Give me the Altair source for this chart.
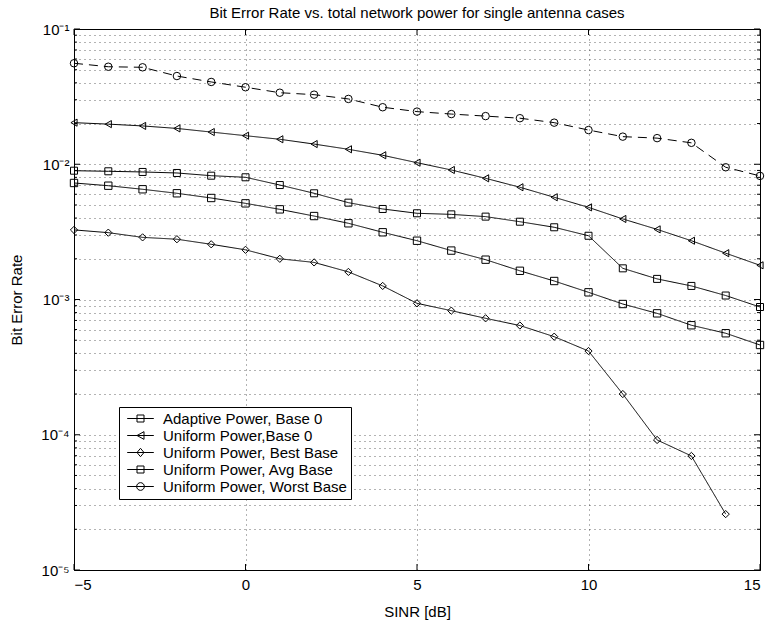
import altair as alt
import pandas as pd

# ---------------- data ----------------
sinr = list(range(-5, 16))
series_names = [
    "Adaptive Power, Base 0",
    "Uniform Power,Base 0",
    "Uniform Power, Best Base",
    "Uniform Power, Avg Base",
    "Uniform Power, Worst Base",
]
adaptive_base0 = [0.00896, 0.00887, 0.00877, 0.00862, 0.00823, 0.00801, 0.00702, 0.0061, 0.0052,
                  0.00467, 0.00434, 0.00426, 0.0041, 0.00376, 0.00342, 0.00296, 0.0017, 0.00142,
                  0.00126, 0.00107, 0.00088]
uniform_base0 = [0.0203, 0.0198, 0.0192, 0.0184, 0.0173, 0.01626, 0.0153, 0.0141, 0.0129, 0.01165,
                 0.01027, 0.00907, 0.00787, 0.00676, 0.0057, 0.0048, 0.00394, 0.0033, 0.00272,
                 0.0022, 0.00179]
uniform_best = [0.00327, 0.00312, 0.00288, 0.00279, 0.00256, 0.00233, 0.002, 0.00188, 0.0016,
                0.00126, 0.000937, 0.000827, 0.000726, 0.000642, 0.000531, 0.000416, 0.0002,
                0.0000915, 0.0000697, 0.0000259]
uniform_avg = [0.00727, 0.00694, 0.00653, 0.0061, 0.00563, 0.00514, 0.00464, 0.00414, 0.00366,
               0.00314, 0.00272, 0.0023, 0.00197, 0.00163, 0.00137, 0.00113, 0.000926, 0.00079,
               0.000645, 0.000563, 0.000461]
uniform_worst = [0.0558, 0.0526, 0.0521, 0.0449, 0.0406, 0.0371, 0.0338, 0.0327, 0.0304, 0.0264,
                 0.0245, 0.0235, 0.0227, 0.0219, 0.0203, 0.0179, 0.016, 0.0156, 0.0144, 0.0095,
                 0.0082]

x_ticks = [-5, 0, 5, 10, 15]
y_major = [1e-5, 1e-4, 1e-3, 1e-2, 1e-1]
y_major_labels = ["10⁻⁵", "10⁻⁴", "10⁻³", "10⁻²", "10⁻¹"]
y_minor = [m * 10.0 ** k for k in range(-5, -1) for m in range(2, 10)]

all_series = [adaptive_base0, uniform_base0, uniform_best, uniform_avg, uniform_worst]
rows = []
for name, vals in zip(series_names, all_series):
    for x, v in zip(sinr, vals):
        rows.append({"series": name, "sinr": x, "ber": v})
df = pd.DataFrame(rows)

y_grid = sorted(y_major + y_minor)

label_expr = ""
for v, lab in zip(y_major, y_major_labels):
    label_expr += f"(datum.value > {v*0.999} && datum.value < {v*1.001}) ? '{lab}' : "
label_expr += "''"

FONT = "Liberation Sans"
W, H = 686, 541

x_scale = alt.Scale(domain=[-5, 15], nice=False, zero=False)
y_scale = alt.Scale(type="log", domain=[1e-5, 1e-1], nice=False)

x_axis = alt.Axis(values=x_ticks, title="SINR [dB]", grid=True,
                  gridDash=[1, 4], gridColor="black", gridOpacity=0.6,
                  domain=False, ticks=False, labelPadding=7, titlePadding=12,
                  labelFontSize=15, titleFontSize=15, labelFont=FONT, titleFont=FONT,
                  labelColor="black", titleColor="black", titleFontWeight="normal")
y_axis = alt.Axis(values=y_grid, labelExpr=label_expr, title="Bit Error Rate",
                  grid=True, gridDash=[1, 4], gridColor="black", gridOpacity=0.6,
                  domain=False, ticks=False, labelPadding=5, titlePadding=16,
                  labelFontSize=15, titleFontSize=15, labelFont=FONT, titleFont=FONT,
                  labelColor="black", titleColor="black", titleFontWeight="normal",
                  labelOverlap=False)

x_enc = alt.X("sinr:Q", scale=x_scale, axis=x_axis)
y_enc = alt.Y("ber:Q", scale=y_scale, axis=y_axis)

base = alt.Chart(df)

lines = base.mark_line(color="black", strokeWidth=1, opacity=1).encode(
    x=x_enc, y=y_enc,
    detail="series:N",
    strokeDash=alt.StrokeDash("series:N",
                              scale=alt.Scale(domain=series_names,
                                              range=[[1, 0], [1, 0], [1, 0], [1, 0], [9, 6]]),
                              legend=None),
)

points = base.mark_point(filled=False, color="black", strokeWidth=1, opacity=1).encode(
    x=x_enc, y=y_enc,
    shape=alt.Shape("series:N",
                    scale=alt.Scale(domain=series_names,
                                    range=["square", "triangle-left", "diamond", "square", "circle"]),
                    legend=None),
    size=alt.Size("series:N",
                  scale=alt.Scale(domain=series_names, range=[49, 56, 64, 49, 64]),
                  legend=None),
)

legend_paths = [
    "M-1.9,0H1.9M-0.5,-0.5H0.5V0.5H-0.5Z",
    "M-1.9,0H1.9M-0.5,0L0.5,-0.55L0.5,0.55Z",
    "M-1.9,0H1.9M0,-0.6L0.5,0L0,0.6L-0.5,0Z",
    "M-1.9,0H1.9M-0.5,-0.5H0.5V0.5H-0.5Z",
    "M-1.9,0H1.9M0.55,0A0.55,0.55,0,1,1,-0.55,0A0.55,0.55,0,1,1,0.55,0Z",
]

legend_layer = base.transform_filter("datum.sinr > 1000").mark_point(
    filled=False, color="black", strokeWidth=1, opacity=1
).encode(
    x=x_enc, y=y_enc,
    shape=alt.Shape("series:N",
                    scale=alt.Scale(domain=series_names, range=legend_paths),
                    legend=alt.Legend(title=None, orient="none", legendX=45, legendY=378,
                                      fillColor="white", strokeColor="black", padding=4,
                                      cornerRadius=0, labelFontSize=15, labelFont=FONT,
                                      labelColor="black", labelLimit=400,
                                      symbolSize=196, symbolStrokeWidth=1,
                                      symbolStrokeColor="black", symbolFillColor="transparent",
                                      symbolOffset=10, labelOffset=15, rowPadding=1)),
)

# inward tick marks (MATLAB box style), placed through the shared scales
ymaj_df = pd.DataFrame({"ber": y_major})
ymin_df = pd.DataFrame({"ber": y_minor})
xt_df = pd.DataFrame({"sinr": x_ticks})

tick_layers = []
for d, ln in [(ymaj_df, 6), (ymin_df, 3)]:
    tick_layers.append(alt.Chart(d).mark_rule(color="black", strokeWidth=1).encode(
        y=y_enc, x=alt.value(0), x2=alt.value(ln)))
    tick_layers.append(alt.Chart(d).mark_rule(color="black", strokeWidth=1).encode(
        y=y_enc, x=alt.value(W - ln), x2=alt.value(W)))
tick_layers.append(alt.Chart(xt_df).mark_rule(color="black", strokeWidth=1).encode(
    x=x_enc, y=alt.value(H - 6), y2=alt.value(H)))
tick_layers.append(alt.Chart(xt_df).mark_rule(color="black", strokeWidth=1).encode(
    x=x_enc, y=alt.value(0), y2=alt.value(6)))

chart = alt.layer(lines, points, legend_layer, *tick_layers).resolve_scale(
    shape="independent"
).properties(
    width=W, height=H,
    title=alt.TitleParams("Bit Error Rate vs. total network power for single antenna cases",
                          fontSize=15, fontWeight="normal", font=FONT, color="black",
                          anchor="middle", offset=1),
    autosize=alt.AutoSizeParams(type="none"),
    padding={"left": 74, "top": 29, "right": 8, "bottom": 56},
    background="white",
).configure_view(stroke="black", strokeWidth=1)

chart.save("out.html", embed_options={"renderer": "svg", "actions": False})
